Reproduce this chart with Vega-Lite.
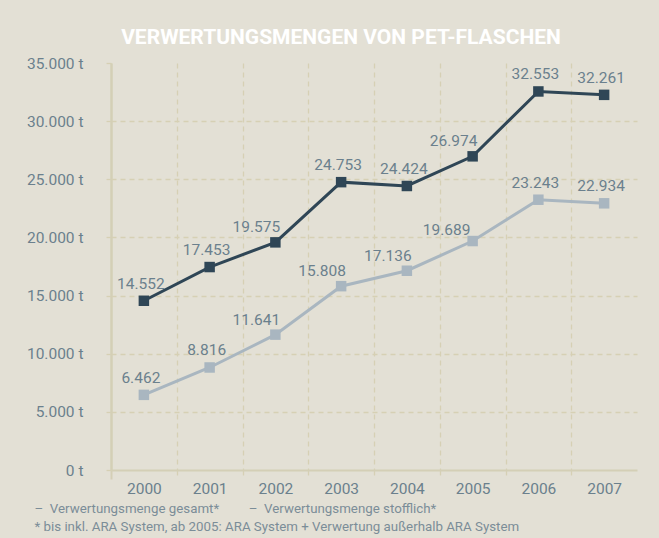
{
  "$schema": "https://vega.github.io/schema/vega-lite/v6.json",
  "width": 526,
  "height": 407,
  "autosize": {"type": "none"},
  "padding": {"left": 111, "top": 63, "right": 22, "bottom": 68},
  "background": "#e3e0d5",
  "config": {
    "view": {"stroke": null},
    "locale": {"number": {"decimal": ",", "thousands": ".", "grouping": [3], "currency": ["", " €"]}},
    "font": "Roboto"
  },
  "title": {
    "text": "VERWERTUNGSMENGEN VON PET-FLASCHEN",
    "color": "#ffffff",
    "font": "Roboto",
    "fontSize": 21,
    "fontWeight": "bold",
    "anchor": "middle",
    "dx": -33,
    "offset": 8
  },
  "data": {
    "values": [
      {"Jahr": "2000", "Serie": "gesamt", "Menge": 14552},
      {"Jahr": "2001", "Serie": "gesamt", "Menge": 17453},
      {"Jahr": "2002", "Serie": "gesamt", "Menge": 19575},
      {"Jahr": "2003", "Serie": "gesamt", "Menge": 24753},
      {"Jahr": "2004", "Serie": "gesamt", "Menge": 24424},
      {"Jahr": "2005", "Serie": "gesamt", "Menge": 26974},
      {"Jahr": "2006", "Serie": "gesamt", "Menge": 32553},
      {"Jahr": "2007", "Serie": "gesamt", "Menge": 32261},
      {"Jahr": "2000", "Serie": "stofflich", "Menge": 6462},
      {"Jahr": "2001", "Serie": "stofflich", "Menge": 8816},
      {"Jahr": "2002", "Serie": "stofflich", "Menge": 11641},
      {"Jahr": "2003", "Serie": "stofflich", "Menge": 15808},
      {"Jahr": "2004", "Serie": "stofflich", "Menge": 17136},
      {"Jahr": "2005", "Serie": "stofflich", "Menge": 19689},
      {"Jahr": "2006", "Serie": "stofflich", "Menge": 23243},
      {"Jahr": "2007", "Serie": "stofflich", "Menge": 22934}
    ]
  },
  "encoding": {
    "x": {
      "field": "Jahr",
      "type": "ordinal",
      "scale": {"type": "band", "paddingInner": 0, "paddingOuter": 0},
      "axis": {
        "tickBand": "extent",
        "labelAngle": 0,
        "labelColor": "#6b808d",
        "labelFontSize": 15.5,
        "labelPadding": 2,
        "domainColor": "#d4cfb6",
        "domainWidth": 2,
        "grid": true,
        "gridColor": {"condition": {"test": "datum.extra", "value": "#d4cfb6"}, "value": "#d6d0b4"},
        "gridDash": {"condition": {"test": "datum.extra", "value": []}, "value": [5, 4]},
        "gridWidth": {"condition": {"test": "datum.extra", "value": 2}, "value": 1.3},
        "gridOpacity": {"condition": {"test": "datum.value === '2007' && !datum.extra", "value": 0}, "value": 1},
        "ticks": true,
        "tickSize": 9,
        "tickColor": {"condition": {"test": "datum.extra", "value": "#d4cfb6"}, "value": "#d6d0b4"},
        "tickDash": {"condition": {"test": "datum.extra", "value": []}, "value": [5, 4]},
        "tickWidth": {"condition": {"test": "datum.extra", "value": 2}, "value": 1.3},
        "tickOpacity": {"condition": {"test": "datum.value === '2007' && !datum.extra", "value": 0}, "value": 1},
        "title": [
          "–\u00a0 Verwertungsmenge gesamt*\u00a0\u00a0\u00a0\u00a0\u00a0\u00a0\u00a0\u00a0 –\u00a0 Verwertungsmenge stofflich*",
          "* bis inkl. ARA System, ab 2005: ARA System + Verwertung außerhalb ARA System"
        ],
        "titleFontSize": 13.3,
        "titleFontWeight": "normal",
        "titleColor": "#7b8d98",
        "titleAnchor": "start",
        "titleAlign": "left",
        "titleBaseline": "alphabetic",
        "titleX": -77,
        "titleY": 42,
        "titleLineHeight": 18
      }
    },
    "y": {
      "field": "Menge",
      "type": "quantitative",
      "scale": {"domain": [0, 35000]},
      "axis": {
        "values": [0, 5000, 10000, 15000, 20000, 25000, 30000, 35000],
        "labelExpr": "replace(format(datum.value, ',d'), regexp(',', 'g'), '.') + ' t'",
        "labelColor": "#6b808d",
        "labelFontSize": 15.5,
        "labelPadding": 22,
        "domainColor": "#d4cfb6",
        "domainWidth": 2,
        "grid": true,
        "gridColor": "#d6d0b4",
        "gridDash": [5, 4],
        "gridWidth": 1.3,
        "gridOpacity": {"condition": {"test": "datum.value === 35000 || datum.value === 0", "value": 0}, "value": 1},
        "tickSize": 6,
        "tickColor": "#d6d0b4",
        "tickDash": [5, 4],
        "tickWidth": 1.3,
        "title": null
      }
    },
    "color": {
      "field": "Serie",
      "type": "nominal",
      "scale": {"domain": ["gesamt", "stofflich"], "range": ["#2f4656", "#a9b6c0"]},
      "legend": null
    }
  },
  "layer": [
    {"mark": {"type": "line", "strokeWidth": 3}},
    {"mark": {"type": "point", "shape": "square", "filled": true, "size": 110, "opacity": 1}},
    {
      "transform": [{"filter": "!((datum.Serie === 'gesamt' && (datum.Jahr === '2002' || datum.Jahr === '2005')) || (datum.Serie === 'stofflich' && (datum.Jahr === '2002' || datum.Jahr === '2003' || datum.Jahr === '2004' || datum.Jahr === '2005')))"}],
      "mark": {"type": "text", "dy": -17, "dx": -3, "fontSize": 15.5, "baseline": "middle"},
      "encoding": {
        "text": {"field": "Menge", "type": "quantitative", "format": ",d"},
        "color": {"value": "#6b808d"}
      }
    },
    {
      "transform": [{"filter": "(datum.Serie === 'gesamt' && (datum.Jahr === '2002' || datum.Jahr === '2005')) || (datum.Serie === 'stofflich' && (datum.Jahr === '2002' || datum.Jahr === '2003' || datum.Jahr === '2004'))"}],
      "mark": {"type": "text", "dy": -15, "dx": -19, "fontSize": 15.5, "baseline": "middle"},
      "encoding": {
        "text": {"field": "Menge", "type": "quantitative", "format": ",d"},
        "color": {"value": "#6b808d"}
      }
    },
    {
      "transform": [{"filter": "datum.Serie === 'stofflich' && datum.Jahr === '2005'"}],
      "mark": {"type": "text", "dy": -11, "dx": -26, "fontSize": 15.5, "baseline": "middle"},
      "encoding": {
        "text": {"field": "Menge", "type": "quantitative", "format": ",d"},
        "color": {"value": "#6b808d"}
      }
    }
  ]
}
